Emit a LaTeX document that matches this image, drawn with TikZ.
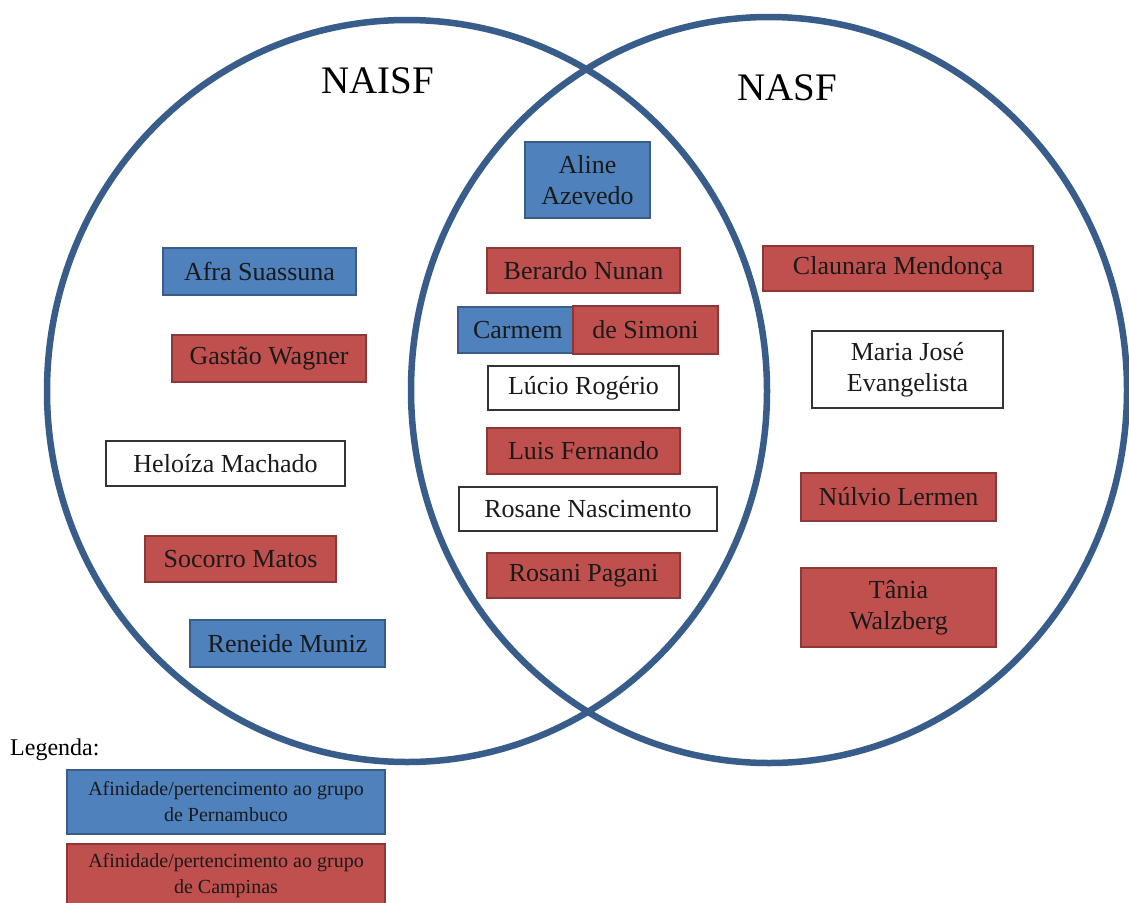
\documentclass[tikz,border=0pt]{standalone}
\usepackage{fontspec}
\setmainfont{Liberation Serif}
\definecolor{cblue}{HTML}{4F81BD}
\definecolor{cbluedk}{HTML}{385D8A}
\definecolor{cred}{HTML}{C0504D}
\definecolor{creddk}{HTML}{8C3836}
\definecolor{ctxt}{HTML}{1A1A1A}
\begin{document}
\begin{tikzpicture}[x=1pt,y=-1pt,
  base/.style={inner sep=0pt, align=center, text=ctxt, font=\fontsize{26}{31}\selectfont},
  bbox/.style={base, fill=cblue, draw=cbluedk, line width=2pt},
  rbox/.style={base, fill=cred, draw=creddk, line width=2pt},
  wbox/.style={base, fill=white, draw=black!80, line width=1.3pt},
  sz/.style 2 args={minimum width=#1pt, minimum height=#2pt},
  ring/.style={draw=cbluedk, line width=6.5pt},
  settitle/.style={font=\fontsize{39}{39}\selectfont, text=black, inner sep=0pt, anchor=base},
  legtext/.style={font=\fontsize{20}{26}\selectfont}
]
\useasboundingbox (0,0) rectangle (1129,902);
\clip (0,0) rectangle (1129,902);
\fill[white] (0,0) rectangle (1129,902);

% sets
\draw[ring] (407,391) ellipse [x radius=360pt, y radius=371pt];
\draw[ring] (769,390) ellipse [x radius=358pt, y radius=373pt];

\node[settitle] (naisf) at (378,93) {NAISF};
\node[settitle] (nasf) at (787,100) {NASF};

% left only
\node[bbox, sz={193}{47}] (afra) at (259.5,271.5) {Afra Suassuna};
\node[rbox, sz={194}{47}] (gastao) at (269,358.5) {Gastão Wagner};
\node[wbox, sz={239}{45}] (heloiza) at (225.5,463.5) {Heloíza Machado};
\node[rbox, sz={191}{46}] (socorro) at (240.5,559) {Socorro Matos};
\node[bbox, sz={195}{47}] (reneide) at (287.5,643.5) {Reneide Muniz};

% intersection
\node[bbox, sz={125}{76}] (aline) at (587.5,180) {Aline\\Azevedo};
\node[rbox, sz={193}{45}] (berardo) at (583.5,270.5) {Berardo Nunan};
\node[bbox, minimum height=46pt, text width=132pt, align=left] (carmem) at (524,330) {\hspace*{15pt}Carmem};
\node[rbox, sz={145}{48}] (simoni) at (645.5,329.5) {de Simoni};
\node[wbox, sz={191}{44}] (lucio) at (583.5,388) {Lúcio Rogério};
\node[rbox, sz={193}{46}] (luis) at (583.5,451) {Luis Fernando};
\node[wbox, sz={258}{44}] (rosane) at (588,509) {Rosane Nascimento};
\node[rbox, sz={193}{45}] (rosani) at (583.5,575.5) {Rosani Pagani};

% right only
\node[rbox, sz={270}{45}] (claunara) at (898,268.5) {Claunara Mendonça};
\node[wbox, sz={191}{77}] (maria) at (907.5,369.5) {Maria José\\Evangelista};
\node[rbox, sz={195}{48}] (nulvio) at (898.5,497) {Núlvio Lermen};
\node[rbox, sz={195}{79}] (tania) at (898.5,607.5) {Tânia\\Walzberg};

% legend
\node[font=\fontsize{24}{24}\selectfont, anchor=base west, inner sep=0pt] (legenda) at (10,755) {Legenda:};
\node[bbox, legtext, sz={318}{64}] (legblue) at (226,802) {Afinidade/pertencimento ao grupo\\de Pernambuco};
\node[rbox, legtext, sz={318}{64}] (legred) at (226,876) {Afinidade/pertencimento ao grupo\\de Campinas};
\end{tikzpicture}
\end{document}
